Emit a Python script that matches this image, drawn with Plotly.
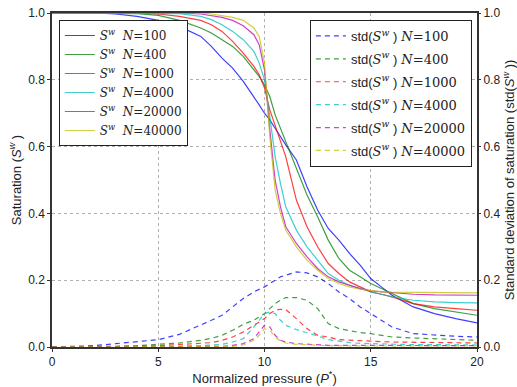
import plotly.graph_objects as go

# Normalized pressure grid
pressure = [0, 1, 2, 3, 4, 5, 6, 7, 7.5, 8, 8.5, 9, 9.5, 9.75, 10, 10.25, 10.5, 10.75,
            11, 11.5, 12, 12.5, 13, 13.5, 14, 14.5, 15, 15.5, 16, 17, 18, 19, 20]

sample_sizes = [100, 400, 1000, 4000, 20000, 40000]

# Saturation S^w
sw_100 = [1.0, 1.0, 1.0, 0.997, 0.99, 0.978, 0.96, 0.93, 0.9, 0.865, 0.835, 0.795, 0.75, 0.725,
          0.70, 0.68, 0.655, 0.63, 0.605, 0.56, 0.48, 0.41, 0.355, 0.32, 0.28, 0.245, 0.205,
          0.18, 0.155, 0.12, 0.10, 0.085, 0.072]
sw_400 = [1.0, 1.0, 1.0, 1.0, 0.998, 0.993, 0.978, 0.955, 0.94, 0.92, 0.9, 0.87, 0.83, 0.81,
          0.785, 0.75, 0.695, 0.655, 0.615, 0.53, 0.455, 0.39, 0.32, 0.265, 0.23, 0.21, 0.19,
          0.175, 0.16, 0.13, 0.115, 0.105, 0.095]
sw_1000 = [1.0, 1.0, 1.0, 1.0, 1.0, 0.997, 0.99, 0.978, 0.965, 0.945, 0.915, 0.88, 0.84, 0.815,
           0.775, 0.71, 0.665, 0.615, 0.57, 0.44, 0.36, 0.30, 0.25, 0.22, 0.195, 0.18, 0.165,
           0.158, 0.15, 0.13, 0.12, 0.115, 0.11]
sw_4000 = [1.0, 1.0, 1.0, 1.0, 1.0, 1.0, 0.998, 0.99, 0.98, 0.965, 0.945, 0.92, 0.885, 0.85,
           0.80, 0.69, 0.57, 0.49, 0.42, 0.35, 0.30, 0.26, 0.22, 0.2, 0.185, 0.175, 0.165,
           0.158, 0.15, 0.14, 0.135, 0.133, 0.132]
sw_20000 = [1.0, 1.0, 1.0, 1.0, 1.0, 1.0, 1.0, 0.997, 0.993, 0.987, 0.978, 0.962, 0.935, 0.905,
            0.83, 0.65, 0.50, 0.42, 0.36, 0.31, 0.27, 0.235, 0.21, 0.195, 0.185, 0.175, 0.168,
            0.165, 0.162, 0.158, 0.156, 0.155, 0.155]
sw_40000 = [1.0, 1.0, 1.0, 1.0, 1.0, 1.0, 1.0, 1.0, 0.997, 0.993, 0.987, 0.978, 0.955, 0.93,
            0.85, 0.63, 0.47, 0.40, 0.35, 0.30, 0.26, 0.23, 0.205, 0.19, 0.18, 0.173, 0.168,
            0.165, 0.164, 0.163, 0.162, 0.162, 0.162]

# Standard deviation of saturation
std_100 = [0.0, 0.001, 0.004, 0.01, 0.016, 0.022, 0.038, 0.065, 0.08, 0.095, 0.12, 0.145, 0.165,
           0.172, 0.18, 0.19, 0.2, 0.21, 0.215, 0.225, 0.222, 0.21, 0.19, 0.165, 0.145, 0.12,
           0.1, 0.08, 0.06, 0.04, 0.035, 0.032, 0.03]
std_400 = [0.0, 0.0, 0.001, 0.002, 0.004, 0.008, 0.012, 0.02, 0.026, 0.035, 0.05, 0.068, 0.08,
           0.09, 0.1, 0.115, 0.13, 0.14, 0.148, 0.148, 0.14, 0.115, 0.07, 0.055, 0.048, 0.043,
           0.04, 0.035, 0.03, 0.027, 0.025, 0.022, 0.02]
std_1000 = [0.0, 0.0, 0.0, 0.0, 0.002, 0.004, 0.007, 0.011, 0.013, 0.02, 0.03, 0.045, 0.065,
            0.075, 0.085, 0.1, 0.11, 0.113, 0.112, 0.085, 0.055, 0.035, 0.03, 0.022, 0.02, 0.02,
            0.018, 0.016, 0.015, 0.014, 0.013, 0.012, 0.012]
std_4000 = [0.0, 0.0, 0.0, 0.0, 0.0, 0.0, 0.002, 0.004, 0.005, 0.008, 0.015, 0.025, 0.06, 0.08,
            0.1, 0.105, 0.1, 0.08, 0.065, 0.052, 0.043, 0.033, 0.022, 0.017, 0.013, 0.011, 0.01,
            0.009, 0.008, 0.007, 0.007, 0.006, 0.006]
std_20000 = [0.0, 0.0, 0.0, 0.0, 0.0, 0.0, 0.0, 0.0, 0.001, 0.002, 0.005, 0.01, 0.025, 0.045,
             0.065, 0.06, 0.035, 0.02, 0.015, 0.01, 0.008, 0.007, 0.005, 0.005, 0.005, 0.004,
             0.004, 0.004, 0.004, 0.004, 0.004, 0.004, 0.004]
std_40000 = [0.0, 0.0, 0.0, 0.0, 0.0, 0.0, 0.0, 0.0, 0.0, 0.0, 0.002, 0.006, 0.02, 0.035, 0.055,
             0.05, 0.03, 0.018, 0.012, 0.008, 0.006, 0.005, 0.004, 0.004, 0.003, 0.003, 0.003,
             0.003, 0.003, 0.003, 0.003, 0.003, 0.003]

sw_series = [sw_100, sw_400, sw_1000, sw_4000, sw_20000, sw_40000]
std_series = [std_100, std_400, std_1000, std_4000, std_20000, std_40000]
colors = ["#0000ff", "#008000", "#ff0000", "#00bfbf", "#bf00bf", "#bfbf00"]

SANS = "Liberation Sans"
SERIF = "DejaVu Serif"

fig = go.Figure()
for n, ys, c in zip(sample_sizes, sw_series, colors):
    fig.add_trace(go.Scatter(
        x=pressure, y=ys, mode="lines", line=dict(color=c, width=1.2), opacity=0.75,
        name=f"<i>S</i><sup><i>w</i></sup>  <i>N</i>={n}", legend="legend"))
for n, ys, c in zip(sample_sizes, std_series, colors):
    fig.add_trace(go.Scatter(
        x=pressure, y=ys, mode="lines", line=dict(color=c, width=1.2, dash="5px,4px"),
        opacity=0.75, yaxis="y2", legend="legend2", legendgroup=f"std{n}",
        name=(f'<span style="font-family:{SANS}">std(</span><i>S</i><sup><i>w</i></sup>'
              f'<span style="font-family:{SANS}"> )</span> <i>N</i>={n}')))

axis_common = dict(
    showline=True, linecolor="#333333", linewidth=1.5, mirror=True,
    ticks="outside", ticklen=3, tickcolor="#333333", automargin=False,
    showgrid=True, gridcolor="#b0b0b0", griddash="dot", gridwidth=1,
    zeroline=False, tickfont=dict(family=SANS, size=12, color="#222222"),
)

fig.update_layout(
    width=517, height=387,
    margin=dict(l=52, r=40, t=13, b=40),
    paper_bgcolor="white", plot_bgcolor="white",
    font=dict(family=SANS, color="#222222"),
    xaxis=dict(range=[0, 20], tickvals=[0, 5, 10, 15, 20],
               title=dict(text="Normalized pressure (<i>P</i><sup>*</sup>)",
                          font=dict(size=13), standoff=0), **axis_common),
    yaxis=dict(range=[0, 1], tickvals=[0, 0.2, 0.4, 0.6, 0.8, 1.0], tickformat=".1f",
               title=dict(text="Saturation (<i>S</i><sup><i>w</i></sup> )",
                          font=dict(size=13), standoff=4), **axis_common),
    yaxis2=dict(range=[0, 1], tickvals=[0, 0.2, 0.4, 0.6, 0.8, 1.0], tickformat=".1f",
                overlaying="y", side="right", showline=False, showgrid=False,
                ticks="outside", ticklen=3, tickcolor="#333333", zeroline=False,
                automargin=False,
                tickfont=dict(family=SANS, size=12, color="#222222"),
                title=dict(text="Standard deviation of saturation (std(<i>S</i><sup><i>w</i></sup> ))",
                           font=dict(size=13), standoff=6)),
    legend=dict(x=0.016, y=0.979, xanchor="left", yanchor="top",
                bgcolor="white", bordercolor="#222222", borderwidth=1,
                font=dict(family=SERIF, size=12, color="#222222")),
    legend2=dict(x=0.988, y=0.979, xanchor="right", yanchor="top",
                 bgcolor="white", bordercolor="#222222", borderwidth=1, tracegroupgap=3,
                 font=dict(family=SERIF, size=13, color="#222222")),
)

fig.write_html("out.html")
